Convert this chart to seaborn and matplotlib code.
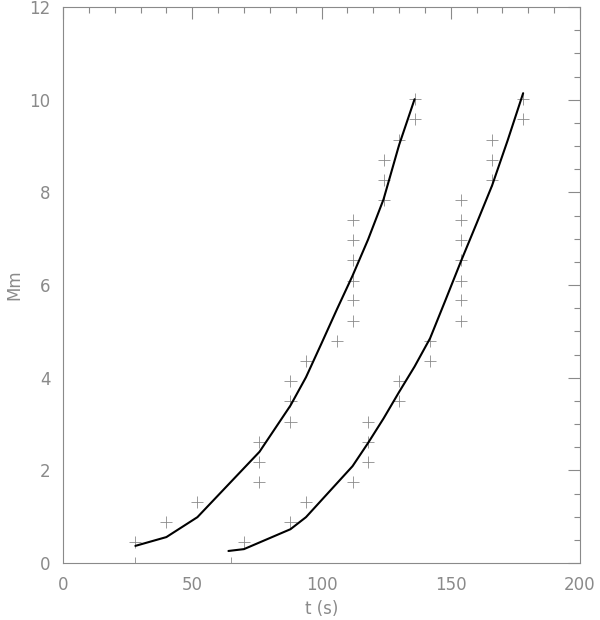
import matplotlib
matplotlib.use("Agg")
import matplotlib.pyplot as plt
import numpy as np
import pandas as pd
import seaborn as sns
from matplotlib.ticker import MultipleLocator

# Havaintopisteet (t in s, korkeus in Mm)
t_left = [28, 28, 40, 52, 76, 76, 76, 88, 88, 88, 94, 106,
          112, 112, 112, 112, 112, 112, 124, 124, 124, 130, 136, 136]
h_left = [0.0, 0.45, 0.88, 1.31, 1.75, 2.18, 2.61, 3.04, 3.50, 3.93, 4.36, 4.79,
          5.22, 5.68, 6.09, 6.54, 6.97, 7.40, 7.83, 8.27, 8.70, 9.13, 9.58, 10.01]

t_right = [65, 70, 88, 94, 112, 118, 118, 118, 130, 130, 142, 142,
           154, 154, 154, 154, 154, 154, 154, 166, 166, 166, 178, 178]
h_right = [0.0, 0.45, 0.88, 1.31, 1.75, 2.18, 2.61, 3.04, 3.50, 3.93, 4.36, 4.79,
           5.22, 5.68, 6.09, 6.54, 6.97, 7.40, 7.83, 8.27, 8.70, 9.13, 9.58, 10.01]

# Sovitetut käyrät
fit_t_left = [28, 40, 52, 76, 88, 94, 100, 106, 112, 118, 124, 130, 136]
fit_h_left = [0.37, 0.56, 0.99, 2.40, 3.40, 4.01, 4.74, 5.48, 6.20, 6.98, 7.85, 9.02, 10.01]

fit_t_right = [64, 70, 88, 94, 112, 118, 124, 130, 136, 142, 148, 154, 160, 166, 172, 178]
fit_h_right = [0.26, 0.30, 0.73, 0.99, 2.09, 2.59, 3.12, 3.69, 4.24, 4.85, 5.68, 6.52, 7.33, 8.15, 9.12, 10.14]

points = pd.concat([
    pd.DataFrame({"t": t_left, "h": h_left, "set": "a"}),
    pd.DataFrame({"t": t_right, "h": h_right, "set": "b"}),
])
fits = pd.concat([
    pd.DataFrame({"t": fit_t_left, "h": fit_h_left, "set": "a"}),
    pd.DataFrame({"t": fit_t_right, "h": fit_h_right, "set": "b"}),
])

sns.set_style("white")
plt.rcParams["font.family"] = ["DejaVu Sans"]

fig = plt.figure(figsize=(6, 6.2), dpi=100)
ax = fig.add_axes([0.105, 0.0919, 0.8617, 0.8968])

grey = "#8a8a8a"
sns.scatterplot(data=points, x="t", y="h", style="set", markers={"a": "+", "b": "+"},
                color=grey, s=75, linewidth=0.6, legend=False, ax=ax)
sns.lineplot(data=fits, x="t", y="h", units="set", estimator=None, sort=False,
             color="black", linewidth=1.5, ax=ax)

ax.set_xlim(0, 200)
ax.set_ylim(0, 12)
ax.xaxis.set_major_locator(MultipleLocator(50))
ax.xaxis.set_minor_locator(MultipleLocator(10))
ax.yaxis.set_major_locator(MultipleLocator(2))
ax.yaxis.set_minor_locator(MultipleLocator(0.5))
ax.tick_params(which="both", direction="in", top=True, right=True, color=grey,
               labelcolor=grey, labelsize=12, width=0.8)
ax.tick_params(which="major", length=8.5, pad=9)
ax.tick_params(which="minor", length=4.5)
for sp in ax.spines.values():
    sp.set_color(grey)
    sp.set_linewidth(0.8)

ax.set_xlabel("t (s)", color=grey, fontsize=12, labelpad=5)
ax.set_ylabel("Mm", color=grey, fontsize=12, labelpad=4)

fig.savefig("out.png", dpi=100)
